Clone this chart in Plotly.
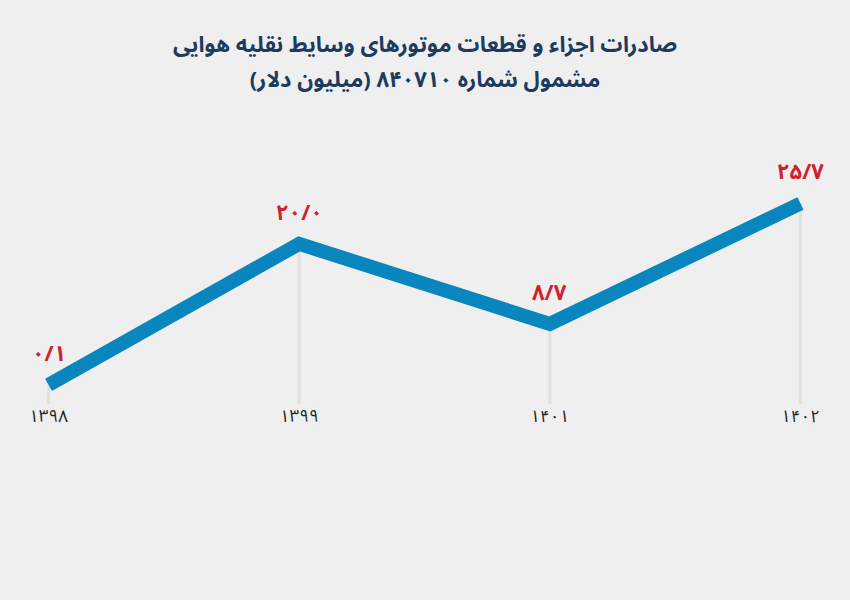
import plotly.graph_objects as go

years = ["۱۳۹۸", "۱۳۹۹", "۱۴۰۱", "۱۴۰۲"]
values = [0.1, 20.0, 8.7, 25.7]
value_labels = ["۰/۱", "۲۰/۰", "۸/۷", "۲۵/۷"]
title_line1 = "صادرات اجزاء و قطعات موتورهای وسایط نقلیه هوایی"
title_line2 = "مشمول شماره ۸۴۰۷۱۰ (میلیون دلار)"

RLM = "\u200F"
FONT = "Noto Sans Arabic, DejaVu Sans, sans-serif"
y_min = -2.6
xs = list(range(len(years)))

fig = go.Figure()

# vertical drop lines from axis floor to each value
drop_x, drop_y = [], []
for x, v in zip(xs, values):
    drop_x += [x, x, None]
    drop_y += [y_min, v, None]
fig.add_trace(go.Scatter(x=drop_x, y=drop_y, mode="lines",
                         line=dict(color="#e0e0e0", width=3),
                         hoverinfo="skip", showlegend=False))

fig.add_trace(go.Scatter(x=xs, y=values, mode="lines",
                         line=dict(color="#0a86bf", width=14),
                         showlegend=False))

for x, v, t in zip(xs, values, value_labels):
    fig.add_annotation(x=x, y=v, text=t, showarrow=False, yshift=31,
                       font=dict(family=FONT, size=22, color="#d11f2e", weight="bold"))

plot_top, plot_bottom = 173, 404
def paper_y(px):
    return (plot_bottom - px) / (plot_bottom - plot_top)

span = "<span style='font-size:22px'>{}</span>"
title_text = span.format(RLM + title_line1 + RLM) + "<br>" + span.format(RLM + title_line2 + RLM)
fig.add_annotation(xref="paper", yref="paper", x=0.5, y=paper_y(63),
                   xanchor="center", yanchor="middle", showarrow=False,
                   text=title_text,
                   font=dict(family=FONT, size=27, color="#1c3b5e", weight="bold"))

fig.update_layout(
    width=850, height=600,
    paper_bgcolor="#efefef", plot_bgcolor="#efefef",
    margin=dict(l=36, r=37, t=plot_top, b=600 - plot_bottom),
    xaxis=dict(range=[-0.05, 3.05], tickvals=xs, ticktext=years,
               showgrid=False, zeroline=False, showline=False, ticks="",
               tickfont=dict(family=FONT, size=17, color="#222222")),
    yaxis=dict(range=[y_min, 30], visible=False, showgrid=False, zeroline=False),
    font=dict(family=FONT),
)

fig.write_html("out.html", config={"displayModeBar": False},
               post_script="document.body.style.margin='0';")
